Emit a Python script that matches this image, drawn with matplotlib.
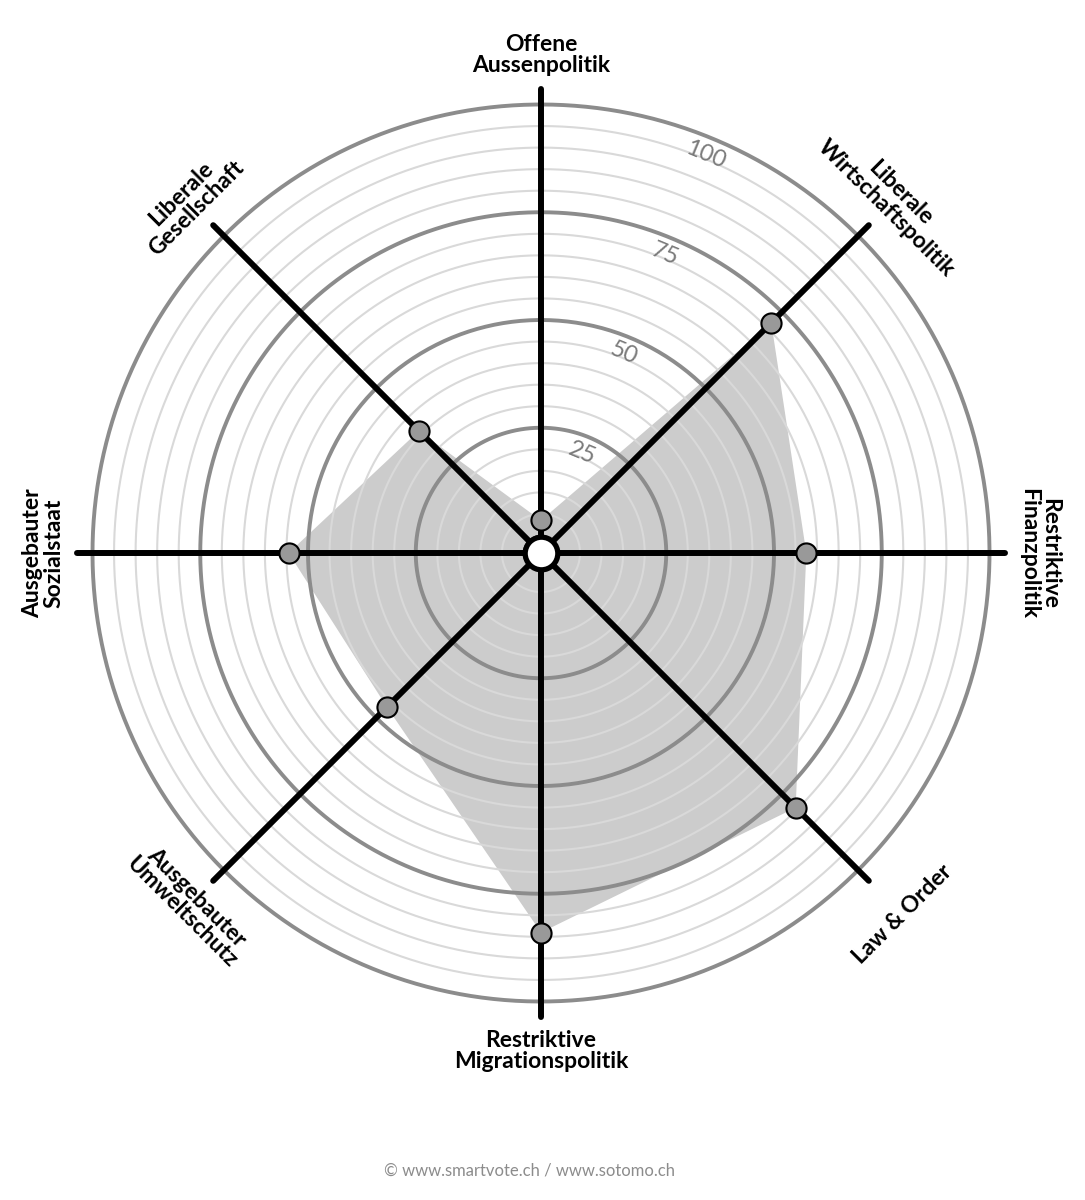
import numpy as np
import matplotlib
matplotlib.use("Agg")
import matplotlib.pyplot as plt

# smartvote spider, values 0..100, clockwise from top
categories = [
    "Offene\nAussenpolitik",
    "Liberale\nWirtschaftspolitik",
    "Restriktive\nFinanzpolitik",
    "Law & Order",
    "Restriktive\nMigrationspolitik",
    "Ausgebauter\nUmweltschutz",
    "Ausgebauter\nSozialstaat",
    "Liberale\nGesellschaft",
]
values = [3.5, 71.5, 57.5, 79.5, 84, 46.5, 54.5, 36]
major_rings = [25, 50, 75, 100]
minor_rings = [5, 10, 15, 20, 30, 35, 40, 45, 55, 60, 65, 70, 80, 85, 90, 95]
footer = "\u00a9 www.smartvote.ch / www.sotomo.ch"

plt.rcParams['font.family'] = ['Lato', 'DejaVu Sans']

fig = plt.figure(figsize=(10.85, 12), dpi=100)
# center of the spider at (541, 553) px, 4.31 px per unit, value 0 at 17.5 px
px_unit = 4.31
r0 = 17.5 / px_unit
rmax = 118
rad = (rmax + r0) * px_unit
cx, cy = 541, 1200 - 553
ax = fig.add_axes([(cx - rad) / 1085, (cy - rad) / 1200, 2 * rad / 1085, 2 * rad / 1200],
                  projection='polar')
ax.set_theta_zero_location('N')
ax.set_theta_direction(-1)
ax.set_ylim(0, rmax)
ax.set_rorigin(-r0)
ax.set_xticks([])
ax.set_yticks([])
ax.grid(False)
ax.spines['polar'].set_visible(False)
ax.patch.set_alpha(0)

n = len(categories)
angles = np.arange(n) * 2 * np.pi / n
circ = np.linspace(0, 2 * np.pi, 500)

# filled profile
ax.fill(np.append(angles, angles[0]), values + values[:1], color='#cccccc', lw=0, zorder=1)

for r in minor_rings:
    ax.plot(circ, np.full_like(circ, r), color='#d9d9d9', lw=1.5, zorder=2)
for r in major_rings:
    ax.plot(circ, np.full_like(circ, r), color='#8c8c8c', lw=2.8, zorder=3)

# axes spokes
for a in angles:
    ax.plot([a, a], [0, 103.5], color='black', lw=4.3, solid_capstyle='round', zorder=4)

ax.plot(angles, values, 'o', ms=14.5, mfc='#999999', mec='black', mew=1.5, zorder=5, clip_on=False)

# centre hub
ax.plot(0.5, 0.5, 'o', transform=ax.transAxes, ms=23.5, mfc='white', mec='black', mew=3.8,
        zorder=6, clip_on=False)

# ring labels
for r in major_rings:
    ax.text(np.deg2rad(22.5), r - 4.0, str(r), rotation=-22.5, rotation_mode='anchor',
            ha='center', va='center', fontsize=17, color='#7a7a7a', zorder=7)

# category labels
for a, lab in zip(angles, categories):
    deg = np.rad2deg(a)
    if deg <= 90:
        rot = -deg
    elif deg < 270:
        rot = 180 - deg
    else:
        rot = 360 - deg
    rr = 111.5 if "\n" in lab else 114.5
    ax.text(a, rr, lab, rotation=rot, rotation_mode='anchor', ha='center', va='center',
            fontsize=16.5, fontweight='bold', linespacing=1.0, color='black', clip_on=False)

fig.text(529 / 1085, 1 - 1170 / 1200, footer, ha='center', va='center', fontsize=12,
         color='#8c8c8c')

fig.savefig('out.png', dpi=100, facecolor='white')
